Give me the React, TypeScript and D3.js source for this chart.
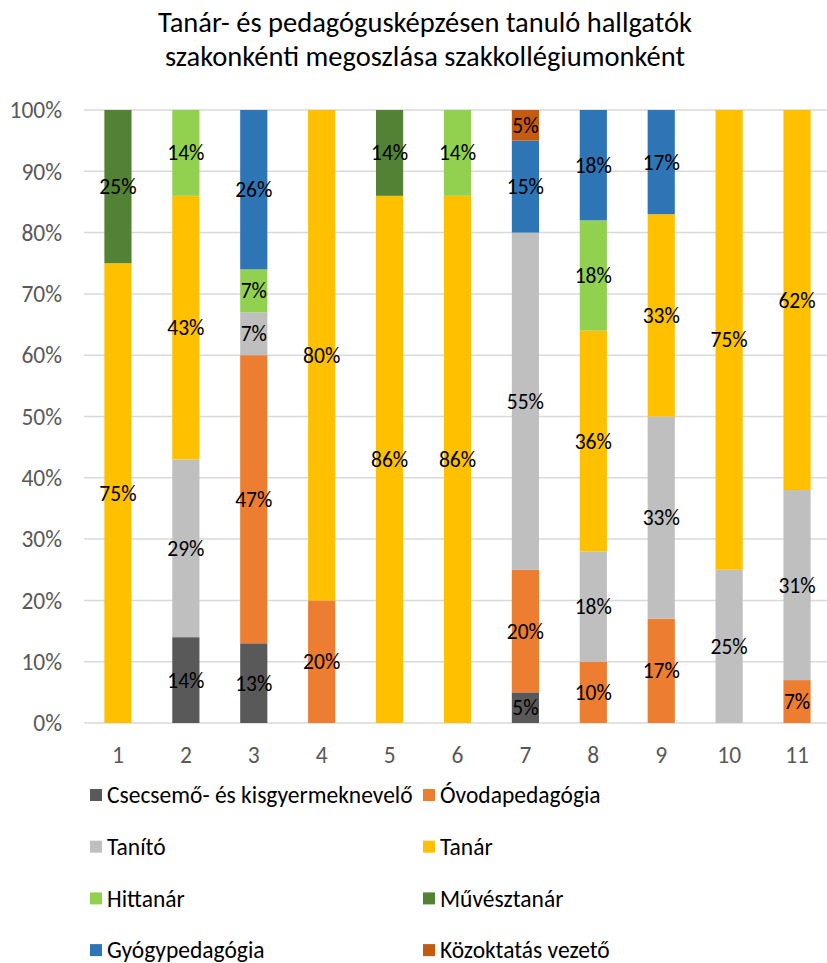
import * as d3 from "d3";
import { useEffect, useRef } from "react";

const categories = ["1", "2", "3", "4", "5", "6", "7", "8", "9", "10", "11"];

const seriesNames = [
  "Csecsemő- és kisgyermeknevelő",
  "Óvodapedagógia",
  "Tanító",
  "Tanár",
  "Hittanár",
  "Művésztanár",
  "Gyógypedagógia",
  "Közoktatás vezető",
];

const csecsemo = [0, 14, 13, 0, 0, 0, 5, 0, 0, 0, 0];
const ovoda = [0, 0, 47, 20, 0, 0, 20, 10, 17, 0, 7];
const tanito = [0, 29, 7, 0, 0, 0, 55, 18, 33, 25, 31];
const tanar = [75, 43, 0, 80, 86, 86, 0, 36, 33, 75, 62];
const hittanar = [0, 14, 7, 0, 0, 14, 0, 18, 0, 0, 0];
const muvesz = [25, 0, 0, 0, 14, 0, 0, 0, 0, 0, 0];
const gyogy = [0, 0, 26, 0, 0, 0, 15, 18, 17, 0, 0];
const kozokt = [0, 0, 0, 0, 0, 0, 5, 0, 0, 0, 0];

const yTicks = [0, 10, 20, 30, 40, 50, 60, 70, 80, 90, 100];

const colors = ["#595959", "#ED7D31", "#BFBFBF", "#FFC000", "#92D050", "#548235", "#2E75B6", "#C55A11"];

const FONT = "Carlito, Calibri, Lato, sans-serif";

export default function App() {
  const ref = useRef<SVGSVGElement | null>(null);

  useEffect(() => {
    if (!ref.current) return;
    const width = 827;
    const height = 963;
    const margin = { top: 110, left: 84, right: -4, bottom: 240 };

    const svg = d3.select(ref.current);
    svg.selectAll("*").remove();

    const values = [csecsemo, ovoda, tanito, tanar, hittanar, muvesz, gyogy, kozokt];
    const rows = categories.map((c, i) => {
      const r: Record<string, any> = { cat: c };
      seriesNames.forEach((s, k) => (r[s] = values[k][i]));
      return r;
    });
    const stacked = d3.stack<any>().keys(seriesNames)(rows);

    const x = d3.scaleBand()
      .domain(categories)
      .range([margin.left, width - margin.right])
      .paddingInner(0.6)
      .paddingOuter(0.3);

    const y = d3.scaleLinear()
      .domain([0, 100])
      .range([height - margin.bottom, margin.top]);

    // title
    svg.append("text")
      .attr("text-anchor", "middle")
      .style("font-family", FONT)
      .style("font-size", "28.5px")
      .attr("fill", "#000")
      .selectAll("tspan")
      .data(["Tanár- és pedagógusképzésen tanuló hallgatók", "szakonkénti megoszlása szakkollégiumonként"])
      .join("tspan")
      .attr("x", 425)
      .attr("y", (_, i) => 32 + i * 34)
      .text((d) => d);

    // gridlines
    svg.append("g")
      .selectAll("line")
      .data(yTicks)
      .join("line")
      .attr("x1", margin.left)
      .attr("x2", width)
      .attr("y1", (d) => y(d))
      .attr("y2", (d) => y(d))
      .attr("stroke", "#D9D9D9")
      .attr("stroke-width", 1.5);

    // y labels
    svg.append("g")
      .selectAll("text")
      .data(yTicks)
      .join("text")
      .attr("x", 62)
      .attr("y", (d) => y(d))
      .attr("dy", "0.35em")
      .attr("text-anchor", "end")
      .style("font-family", FONT)
      .style("font-size", "23.5px")
      .attr("fill", "#595959")
      .text((d) => d + "%");

    // x labels
    svg.append("g")
      .selectAll("text")
      .data(categories)
      .join("text")
      .attr("x", (d) => x(d)! + x.bandwidth() / 2)
      .attr("y", 755)
      .attr("dy", "0.35em")
      .attr("text-anchor", "middle")
      .style("font-family", FONT)
      .style("font-size", "23.5px")
      .attr("fill", "#595959")
      .text((d) => d);

    // bars
    const layers = svg.append("g")
      .selectAll("g")
      .data(stacked)
      .join("g")
      .attr("fill", (_, i) => colors[i]);

    layers.selectAll("rect")
      .data((d) => d.filter((p) => p[1] - p[0] > 0))
      .join("rect")
      .attr("x", (d: any) => x(d.data.cat)!)
      .attr("width", x.bandwidth())
      .attr("y", (d) => y(d[1]))
      .attr("height", (d) => y(d[0]) - y(d[1]));

    // data labels
    layers.selectAll("text")
      .data((d) => d.filter((p) => p[1] - p[0] > 0))
      .join("text")
      .attr("x", (d: any) => x(d.data.cat)! + x.bandwidth() / 2)
      .attr("y", (d) => y((d[0] + d[1]) / 2))
      .attr("dy", "0.35em")
      .attr("text-anchor", "middle")
      .style("font-family", FONT)
      .style("font-size", "21.5px")
      .attr("fill", "#000")
      .text((d) => Math.round(d[1] - d[0]) + "%");

    // legend
    const legend = svg.append("g")
      .selectAll("g")
      .data(seriesNames)
      .join("g")
      .attr("transform", (_, i) => `translate(${i % 2 === 0 ? 90 : 423},${795 + Math.floor(i / 2) * 51.7})`);

    legend.append("rect")
      .attr("x", 0)
      .attr("y", -6)
      .attr("width", 12)
      .attr("height", 12)
      .attr("fill", (_, i) => colors[i]);

    legend.append("text")
      .attr("x", 17)
      .attr("y", 0)
      .attr("dy", "0.35em")
      .style("font-family", FONT)
      .style("font-size", "23.5px")
      .attr("fill", "#000")
      .text((d) => d);
  }, []);

  return (
    <svg
      ref={ref}
      width={827}
      height={963}
      style={{ position: "absolute", left: 0, top: 0, background: "#fff" }}
    ></svg>
  );
}
